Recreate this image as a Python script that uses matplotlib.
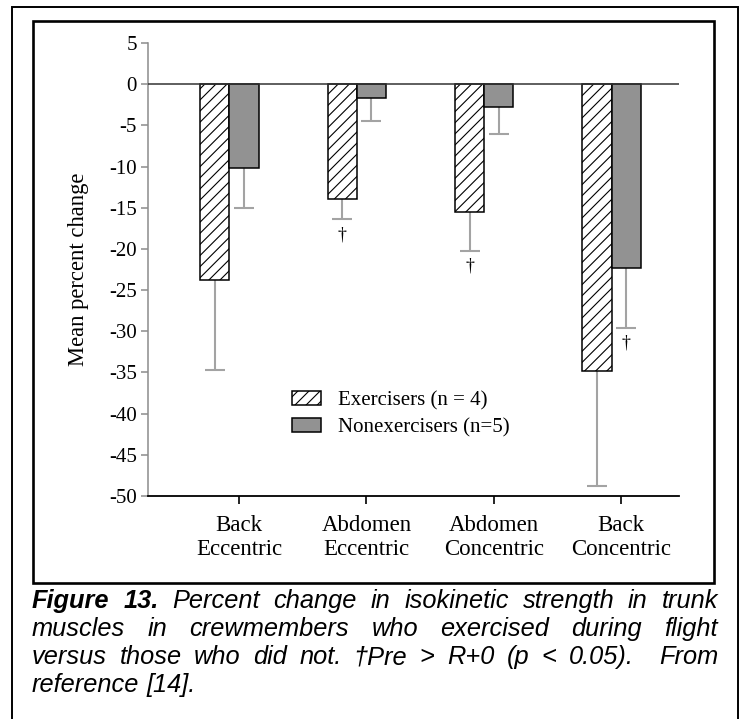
import numpy as np
import matplotlib
matplotlib.use("Agg")
import matplotlib.pyplot as plt
from matplotlib.patches import Rectangle

# Mean percent change (pre vs R+0) and lower error extents
categories = ["Back\nEccentric", "Abdomen\nEccentric", "Abdomen\nConcentric", "Back\nConcentric"]
exercisers = [-23.8, -14.0, -15.5, -34.8]
exercisers_err = [10.9, 2.4, 4.7, 14.0]
nonexercisers = [-10.2, -1.7, -2.8, -22.3]
nonexercisers_err = [4.8, 2.8, 3.2, 7.3]
exercisers_sig = [False, True, True, False]
nonexercisers_sig = [False, False, False, True]
labels = ["Exercisers (n = 4)", "Nonexercisers (n=5)"]

caption = [
    "Figure 13. Percent change in isokinetic strength in trunk",
    "muscles in crewmembers who exercised during flight",
    "versus those who did not. \u2020Pre > R+0 (p < 0.05).  From",
    "reference [14].",
]

W, H = 740, 719
plt.rcParams["hatch.linewidth"] = 0.8
serif = "Liberation Serif"

fig = plt.figure(figsize=(W / 100, H / 100), dpi=100)
ax = fig.add_axes([148 / W, 1 - 496 / H, 531 / W, 453 / H])

x = np.arange(len(categories))
width = 0.228
shift = -0.075
bar_gray = "#929292"
err_gray = "#a3a3a3"

b1 = ax.bar(x + shift - width / 2, exercisers, width, color="white", edgecolor="black",
            hatch="///", linewidth=1.1, label=labels[0], zorder=3)
b2 = ax.bar(x + shift + width / 2, nonexercisers, width, color=bar_gray, edgecolor="black",
            linewidth=1.1, label=labels[1], zorder=3)

for xs, vals, errs in [(x + shift - width / 2, exercisers, exercisers_err),
                       (x + shift + width / 2, nonexercisers, nonexercisers_err)]:
    eb = ax.errorbar(xs, vals, yerr=[errs, np.zeros(len(errs))], fmt="none",
                     ecolor=err_gray, elinewidth=1.5, capsize=7.5, capthick=1.5, zorder=2)
    eb[1][1].set_visible(False)  # only the downward whisker

# daggers under significant bars
for xs, vals, errs, sig in [(x + shift - width / 2, exercisers, exercisers_err, exercisers_sig),
                            (x + shift + width / 2, nonexercisers, nonexercisers_err, nonexercisers_sig)]:
    for xi, v, e, s in zip(xs, vals, errs, sig):
        if s:
            ax.annotate("\u2020", (xi, v - e), xytext=(0, -5), textcoords="offset points",
                        ha="center", va="top", fontsize=13, family=serif)

ax.axhline(0, color="#333333", linewidth=1.1, zorder=4)

ax.set_xlim(-0.715, 3.455)
ax.set_ylim(-50, 5)
ax.set_yticks(np.arange(-50, 6, 5))
ax.set_yticklabels([str(v) for v in range(-50, 6, 5)], family=serif, fontsize=15)
ax.set_xticks(x)
ax.set_xticklabels(categories, family=serif, fontsize=16.5, linespacing=1.15)

ax.spines["top"].set_visible(False)
ax.spines["right"].set_visible(False)
ax.spines["left"].set_color("#8c8c8c")
ax.spines["left"].set_linewidth(1.1)
ax.spines["bottom"].set_linewidth(1.3)
ax.tick_params(axis="y", direction="out", length=5, width=1.1, color="#8c8c8c", pad=3)
ax.tick_params(axis="x", direction="out", length=6, width=1.2, color="black", pad=8)

ax.set_ylabel("Mean percent change", family=serif, fontsize=16.3)
ax.yaxis.set_label_coords(-0.111, 0.5)

ax.legend(loc="upper left", bbox_to_anchor=(0.271, 0.232), frameon=False,
          prop={"family": serif, "size": 15}, handlelength=1.4, handleheight=0.67,
          handletextpad=0.8, labelspacing=0.38, borderpad=0, borderaxespad=0)

# frames around the chart and the whole figure block
fig.patches.append(Rectangle((33 / W, 1 - 583 / H), (714 - 33) / W, (583 - 21) / H,
                             transform=fig.transFigure, fill=False, linewidth=1.9,
                             edgecolor="black"))
fig.patches.append(Rectangle((12 / W, -0.02), (738 - 12) / W, 1.02 - 7 / H,
                             transform=fig.transFigure, fill=False, linewidth=1.4,
                             edgecolor="black", clip_on=False))


def justified_caption(lines, x0, x1, baselines, size):
    renderer = fig.canvas.get_renderer()
    for n, (line, y) in enumerate(zip(lines, baselines)):
        words = line.split(" ")
        texts = []
        for k, w in enumerate(words):
            bold = n == 0 and k < 2
            t = fig.text(0, 1 - y / H, w, fontsize=size, family="Liberation Sans",
                         style="italic", weight="bold" if bold else "normal",
                         va="baseline", ha="left")
            texts.append(t)
        widths = [t.get_window_extent(renderer).width if t.get_text() else 0.0 for t in texts]
        if n < len(lines) - 1:
            gap = (x1 - x0 - sum(widths)) / (len(words) - 1)
        else:
            gap = size * 100 / 72 * 0.278
        pos = x0
        for t, w in zip(texts, widths):
            t.set_x(pos / W)
            pos += w + gap


justified_caption(caption, 32, 718, [608, 636, 664, 692], 18.3)

fig.savefig("out.png", dpi=100)
